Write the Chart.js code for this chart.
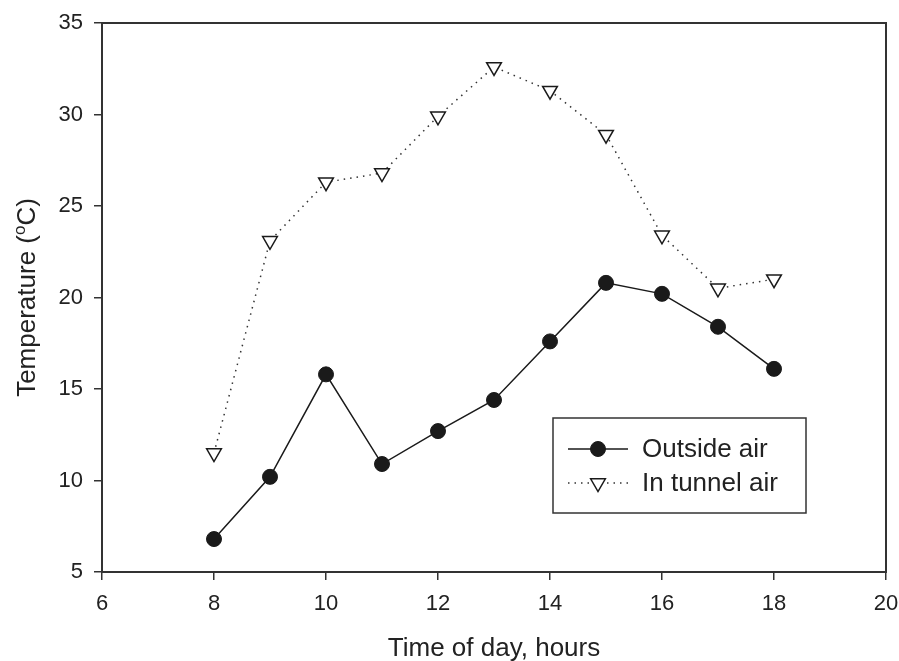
<!DOCTYPE html>
<html>
<head>
<meta charset="utf-8">
<script src="https://cdn.jsdelivr.net/npm/chart.js@4"></script>
<style>
  body { margin: 0; background: #fff; }
  #grafico { display: block; }
</style>
</head>
<body>
<canvas id="grafico" width="899" height="661"></canvas>
<script>
// dados
var horas = [8, 9, 10, 11, 12, 13, 14, 15, 16, 17, 18];
var arExterno = [6.8, 10.2, 15.8, 10.9, 12.7, 14.4, 17.6, 20.8, 20.2, 18.4, 16.1];
var arTunel = [11.5, 23.1, 26.3, 26.8, 29.9, 32.6, 31.3, 28.9, 23.4, 20.5, 21.0];
var nomesSeries = ['Outside air', 'In tunnel air'];
var ticksX = [6, 8, 10, 12, 14, 16, 18, 20];
var ticksY = [5, 10, 15, 20, 25, 30, 35];

var fonte = "'Liberation Sans', Arial, sans-serif";
var corTexto = '#222';
var corEixo = '#333';

function montarPontos(valores) {
    var pontos = [];
    for (var i = 0; i < horas.length; i++) {
        pontos.push({ x: horas[i], y: valores[i] });
    }
    return pontos;
}

// moldura, titulos dos eixos e legenda desenhados a mao
var pluginExtras = {
    id: 'extras',
    afterDraw: function(chart) {
        var ctx = chart.ctx;
        var area = chart.chartArea;

        ctx.save();
        ctx.strokeStyle = corEixo;
        ctx.lineWidth = 2;
        ctx.strokeRect(area.left, area.top, area.right - area.left, area.bottom - area.top);

        // titulo eixo x
        ctx.fillStyle = corTexto;
        ctx.font = "26px " + fonte;
        ctx.textAlign = 'center';
        ctx.textBaseline = 'middle';
        ctx.fillText('Time of day, hours', (area.left + area.right) / 2, 649);

        // titulo eixo y com sobrescrito
        ctx.translate(28, (area.top + area.bottom) / 2);
        ctx.rotate(-Math.PI / 2);
        var p1 = 'Temperature (';
        var p2 = 'o';
        var p3 = 'C)';
        ctx.font = "26px " + fonte;
        var w1 = ctx.measureText(p1).width;
        var w3 = ctx.measureText(p3).width;
        ctx.font = "17px " + fonte;
        var w2 = ctx.measureText(p2).width;
        var total = w1 + w2 + w3;
        var x0 = -total / 2;
        ctx.textAlign = 'left';
        ctx.font = "26px " + fonte;
        ctx.fillText(p1, x0, 0);
        ctx.font = "17px " + fonte;
        ctx.fillText(p2, x0 + w1, -8);
        ctx.font = "26px " + fonte;
        ctx.fillText(p3, x0 + w1 + w2, 0);
        ctx.restore();

        // legenda
        ctx.save();
        ctx.strokeStyle = corEixo;
        ctx.lineWidth = 1.5;
        ctx.strokeRect(553, 418, 253, 95);
        var linhasY = [449, 483];
        for (var i = 0; i < chart.data.datasets.length; i++) {
            var ds = chart.data.datasets[i];
            var y = linhasY[i];
            ctx.strokeStyle = ds.borderColor;
            ctx.lineWidth = ds.borderWidth;
            ctx.setLineDash(ds.borderDash || []);
            ctx.beginPath();
            ctx.moveTo(568, y);
            ctx.lineTo(628, y);
            ctx.stroke();
            ctx.setLineDash([]);
            ctx.fillStyle = ds.pointBackgroundColor;
            ctx.strokeStyle = ds.pointBorderColor;
            ctx.lineWidth = ds.pointBorderWidth;
            ctx.beginPath();
            if (ds.pointStyle == 'circle') {
                ctx.arc(598, y, ds.pointRadius, 0, Math.PI * 2);
            } else {
                var r = ds.pointRadius;
                ctx.moveTo(598 - r * 0.866, y - r * 0.5);
                ctx.lineTo(598 + r * 0.866, y - r * 0.5);
                ctx.lineTo(598, y + r);
                ctx.closePath();
            }
            ctx.fill();
            ctx.stroke();
            ctx.fillStyle = corTexto;
            ctx.font = "26px " + fonte;
            ctx.textAlign = 'left';
            ctx.textBaseline = 'middle';
            ctx.fillText(nomesSeries[i], 642, y + 1);
        }
        ctx.restore();
    }
};

var ctx = document.getElementById('grafico').getContext('2d');

new Chart(ctx, {
    type: 'line',
    data: {
        datasets: [
            {
                label: nomesSeries[0],
                data: montarPontos(arExterno),
                borderColor: '#1a1a1a',
                borderWidth: 1.5,
                pointStyle: 'circle',
                pointRadius: 7.5,
                pointBackgroundColor: '#1a1a1a',
                pointBorderColor: '#1a1a1a',
                pointBorderWidth: 1,
                tension: 0
            },
            {
                label: nomesSeries[1],
                data: montarPontos(arTunel),
                borderColor: '#333',
                borderWidth: 1.5,
                borderDash: [1.5, 5],
                pointStyle: 'triangle',
                pointRotation: 180,
                pointRadius: 8.5,
                pointBackgroundColor: '#fff',
                pointBorderColor: '#1a1a1a',
                pointBorderWidth: 1.5,
                tension: 0
            }
        ]
    },
    options: {
        responsive: false,
        animation: false,
        layout: { padding: { top: 23, right: 13, left: 0, bottom: 0 } },
        plugins: {
            legend: { display: false },
            tooltip: { enabled: false }
        },
        scales: {
            x: {
                type: 'linear',
                min: 6,
                max: 20,
                afterBuildTicks: function(escala) {
                    escala.ticks = ticksX.map(function(v) { return { value: v }; });
                },
                afterFit: function(escala) {
                    escala.height = 89;
                    escala.paddingLeft = 0;
                    escala.paddingRight = 0;
                },
                border: { display: false },
                grid: {
                    drawOnChartArea: false,
                    drawTicks: true,
                    tickLength: 8,
                    color: corEixo,
                    lineWidth: 1.5
                },
                ticks: {
                    color: corTexto,
                    padding: 11,
                    maxRotation: 0,
                    font: { size: 22, family: fonte }
                }
            },
            y: {
                type: 'linear',
                min: 5,
                max: 35,
                afterBuildTicks: function(escala) {
                    escala.ticks = ticksY.map(function(v) { return { value: v }; });
                },
                afterFit: function(escala) {
                    escala.width = 102;
                    escala.paddingTop = 0;
                    escala.paddingBottom = 0;
                },
                border: { display: false },
                grid: {
                    drawOnChartArea: false,
                    drawTicks: true,
                    tickLength: 8,
                    color: corEixo,
                    lineWidth: 1.5
                },
                ticks: {
                    color: corTexto,
                    padding: 11,
                    font: { size: 22, family: fonte }
                }
            }
        }
    },
    plugins: [pluginExtras]
});
</script>
</body>
</html>
